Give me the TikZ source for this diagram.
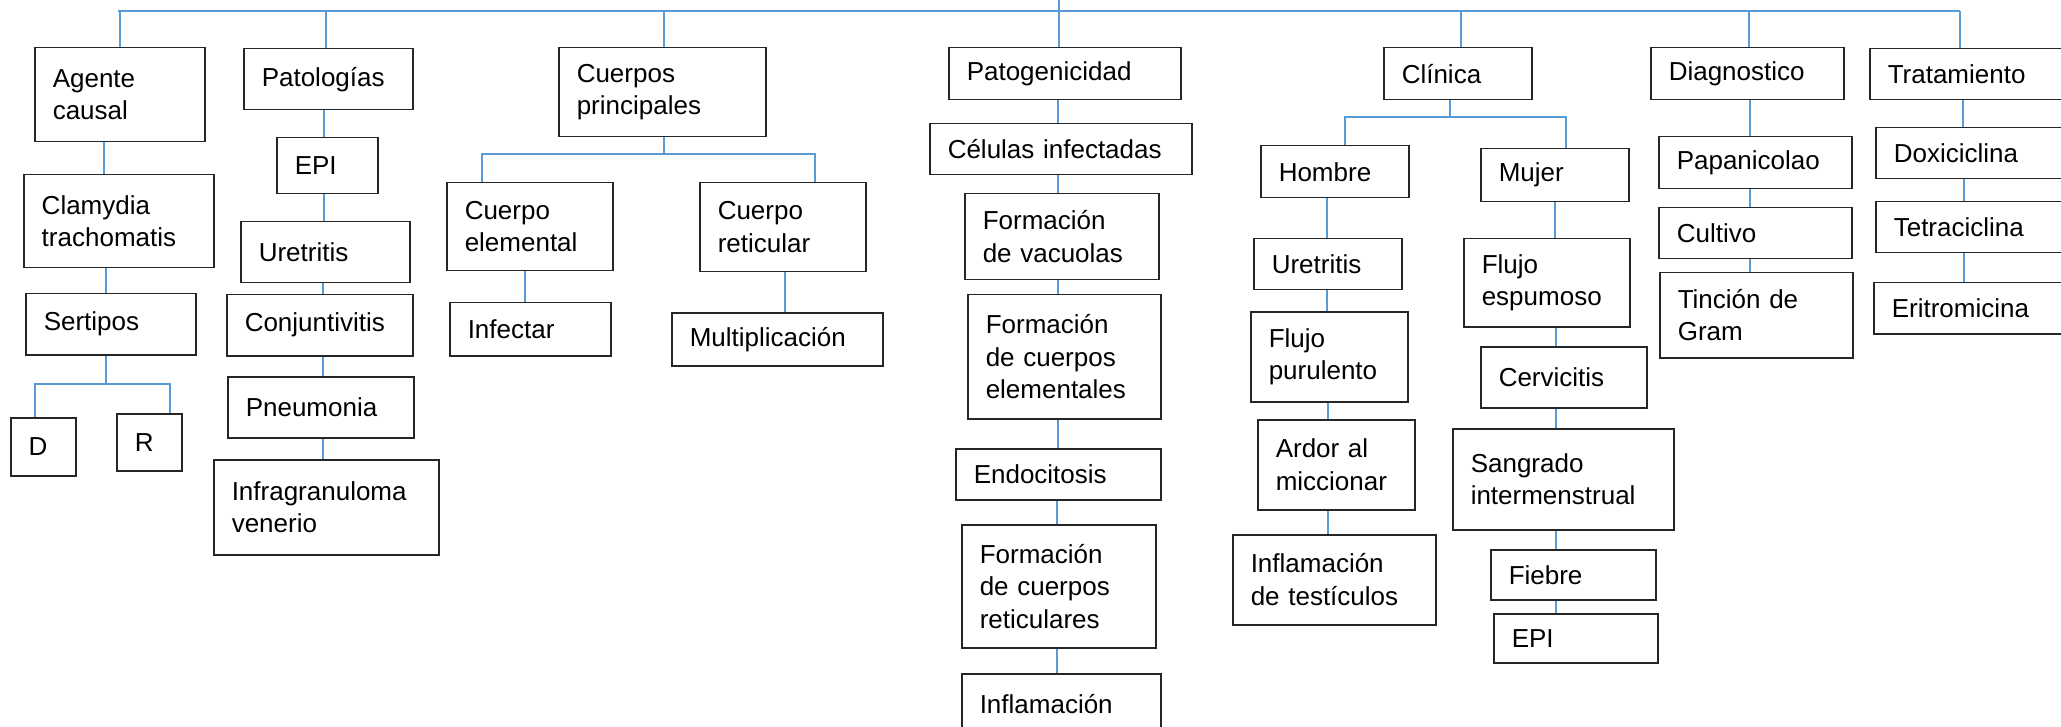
\documentclass[tikz,border=0pt]{standalone}
\usepackage{fontspec}
\setmainfont{Liberation Sans}
\usepackage{xcolor}
\usepackage{tikz}
\usetikzlibrary{positioning}
\definecolor{LineBlue}{RGB}{91,155,213}
\newcommand{\boxfont}{\fontsize{13}{16.25}\selectfont}

\tikzset{
	caja/.style={draw=black!85, line width=0.75pt, rectangle, anchor=north west,
		align=left, inner xsep=9pt, inner ysep=0pt, font=\boxfont},
	tam/.style 2 args={minimum width=#1*0.5pt, minimum height=#2*0.5pt,
		text width=#1*0.5pt-18pt},
	enlace/.style={draw=LineBlue, line width=0.6pt}
}

\begin{document}
\begin{tikzpicture}[x=0.5pt, y=-0.5pt]
		\clip (0,0) rectangle (2061,727);
		\fill[white] (0,0) rectangle (2061,727);
		
		% top level
		\node[caja, tam={170}{94}] (agente) at (34,47) {Agente\\causal};
		\node[caja, tam={169}{61}] (patol) at (243,48) {Patologías};
		\node[caja, tam={207}{89}] (cuerpos) at (558,47) {Cuerpos\\principales};
		\node[caja, tam={232}{52}] (patog) at (948,47) {Patogenicidad};
		\node[caja, tam={148}{52}] (clinica) at (1383,47) {Clínica};
		\node[caja, tam={193}{52}] (diag) at (1650,47) {Diagnostico};
		\node[caja, tam={210}{51}] (trat) at (1869,48) {Tratamiento};
		
		% agente causal
		\node[caja, tam={190}{93}] (clamydia) at (23,174) {Clamydia\\trachomatis};
		\node[caja, tam={170}{61}] (sertipos) at (25,293) {Sertipos};
		\node[caja, tam={65}{58}] (tipoD) at (10,417) {D};
		\node[caja, tam={65}{57}] (tipoR) at (116,413) {R};
		
		% patologias
		\node[caja, tam={101}{56}] (epi1) at (276,137) {EPI};
		\node[caja, tam={169}{61}] (uret1) at (240,221) {Uretritis};
		\node[caja, tam={186}{61}] (conj) at (226,294) {Conjuntivitis};
		\node[caja, tam={186}{61}] (pneu) at (227,376) {Pneumonia};
		\node[caja, tam={225}{95}] (infra) at (213,459) {Infragranuloma\\venerio};
		
		% cuerpos principales
		\node[caja, tam={166}{88}] (celem) at (446,182) {Cuerpo\\elemental};
		\node[caja, tam={161}{53}] (infect) at (449,302) {Infectar};
		\node[caja, tam={166}{89}] (cret) at (699,182) {Cuerpo\\reticular};
		\node[caja, tam={211}{53}] (multi) at (671,312) {Multiplicación};
		
		% patogenicidad
		\node[caja, tam={262}{51}] (celul) at (929,123) {Células infectadas};
		\node[caja, tam={194}{86}] (vacuol) at (964,193) {Formación\\de vacuolas};
		\node[caja, tam={193}{124}] (celem2) at (967,294) {Formación\\de cuerpos\\elementales};
		\node[caja, tam={205}{51}] (endoc) at (955,448) {Endocitosis};
		\node[caja, tam={194}{123}] (cret2) at (961,524) {Formación\\de cuerpos\\reticulares};
		\node[caja, tam={199}{60}] (inflam) at (961,673) {Inflamación};
		
		% clinica
		\node[caja, tam={148}{52}] (hombre) at (1260,145) {Hombre};
		\node[caja, tam={148}{53}] (mujer) at (1480,148) {Mujer};
		\node[caja, tam={148}{51}] (uret2) at (1253,238) {Uretritis};
		\node[caja, tam={157}{90}] (flujoP) at (1250,311) {Flujo\\purulento};
		\node[caja, tam={157}{90}] (ardor) at (1257,419) {Ardor al\\miccionar};
		\node[caja, tam={203}{90}] (testic) at (1232,534) {Inflamación\\de testículos};
		\node[caja, tam={166}{88}] (flujoE) at (1463,238) {Flujo\\espumoso};
		\node[caja, tam={166}{61}] (cervic) at (1480,346) {Cervicitis};
		\node[caja, tam={221}{101}] (sangr) at (1452,428) {Sangrado\\intermenstrual};
		\node[caja, tam={165}{50}] (fiebre) at (1490,549) {Fiebre};
		\node[caja, tam={164}{49}] (epi2) at (1493,613) {EPI};
		
		% diagnostico
		\node[caja, tam={193}{52}] (papan) at (1658,136) {Papanicolao};
		\node[caja, tam={193}{51}] (cultivo) at (1658,207) {Cultivo};
		\node[caja, tam={193}{85}] (tincion) at (1659,272) {Tinción de\\Gram};
		
		% tratamiento
		\node[caja, tam={200}{51}] (doxi) at (1875,127) {Doxiciclina};
		\node[caja, tam={200}{51}] (tetra) at (1875,201) {Tetraciclina};
		\node[caja, tam={202}{51}] (eritro) at (1873,282) {Eritromicina};
		
		% lines
		\coordinate (raiz) at (1059,0);
		\coordinate (barI) at (118,11);
		\coordinate (barD) at (1960,11);
		\coordinate (ramaS) at (106,384);
		\coordinate (ramaC) at (664,154);
		\coordinate (ramaK) at (1450,117);
		
		\draw[enlace] (barI) -- (barD);
		\draw[enlace] (raiz) -- (patog.north -| raiz);
		\foreach \n/\x in {agente/120, patol/326, cuerpos/664, clinica/1461, diag/1749, trat/1960}
			\draw[enlace] (barI -| \x,0) -- (\n.north -| \x,0);
		
		\draw[enlace] (sertipos.south -| ramaS) -- (ramaS);
		\draw[enlace] (tipoD.north -| 35,0) |- (ramaS) -| (tipoR.north -| 170,0);
		\draw[enlace] (cuerpos.south -| ramaC) -- (ramaC);
		\draw[enlace] (celem.north -| 482,0) |- (ramaC) -| (cret.north -| 815,0);
		\draw[enlace] (clinica.south -| ramaK) -- (ramaK);
		\draw[enlace] (hombre.north -| 1345,0) |- (ramaK) -| (mujer.north -| 1566,0);
		
		\foreach \a/\b/\x in {agente/clamydia/104, clamydia/sertipos/106,
			patol/epi1/324, epi1/uret1/324, uret1/conj/323, conj/pneu/323, pneu/infra/323,
			celem/infect/525, cret/multi/785,
			patog/celul/1058, celul/vacuol/1058, vacuol/celem2/1058, celem2/endoc/1058,
			endoc/cret2/1057, cret2/inflam/1057,
			hombre/uret2/1327, uret2/flujoP/1327, flujoP/ardor/1328, ardor/testic/1328,
			mujer/flujoE/1555, flujoE/cervic/1556, cervic/sangr/1556, sangr/fiebre/1556,
			fiebre/epi2/1556,
			diag/papan/1750, papan/cultivo/1750, cultivo/tincion/1750,
			trat/doxi/1963, doxi/tetra/1964, tetra/eritro/1964}
			\draw[enlace] (\a.south -| \x,0) -- (\b.north -| \x,0);
	\end{tikzpicture}
\end{document}
